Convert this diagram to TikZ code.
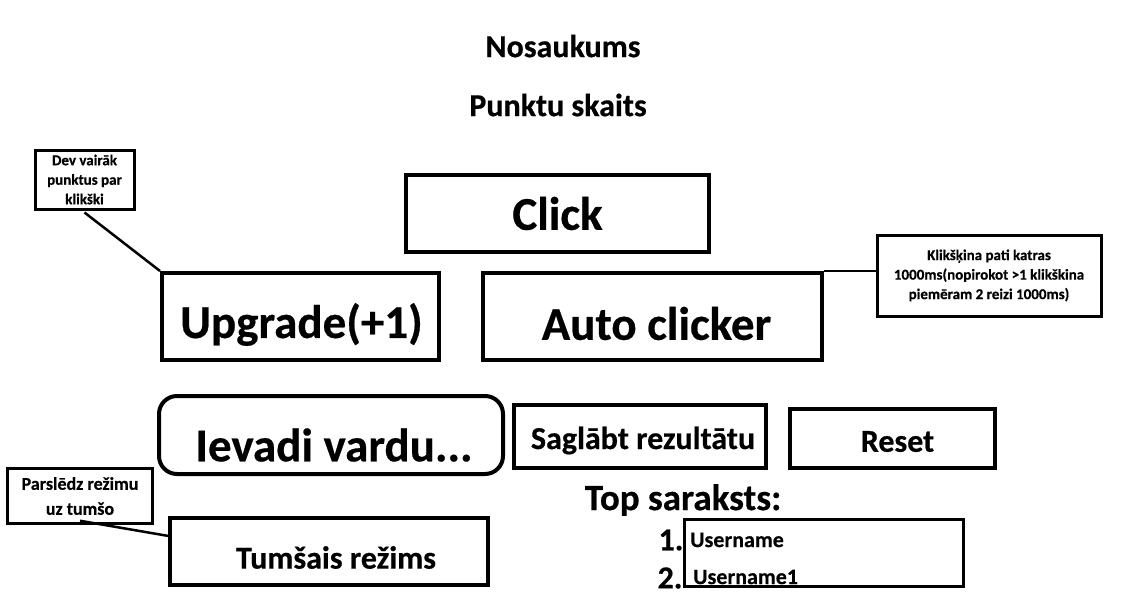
\documentclass[tikz,border=0pt]{standalone}
\usepackage{fontspec}
\setmainfont{Carlito}[BoldFeatures={FakeBold=0.5}]
\usetikzlibrary{positioning,calc}

\tikzset{
  box/.style={draw,line width=4pt,inner sep=0pt,font=\bfseries\fontsize{32}{34}\selectfont},
  bigbox/.style={box,font=\bfseries\fontsize{47}{50}\selectfont},
  notebox/.style={draw,line width=3pt,inner sep=0pt,align=center,font=\bfseries\fontsize{15}{19.5}\selectfont},
  heading/.style={font=\bfseries\fontsize{32}{34}\selectfont},
  label/.style={font=\bfseries\fontsize{22}{24}\selectfont,anchor=west,inner sep=0pt},
  noteline/.style={line width=2.5pt},
}

\begin{document}
\begin{tikzpicture}[x=1pt,y=-1pt]
\useasboundingbox (0,0) rectangle (1138,595);

% Title and score.
\node[heading] (title) at (563,46) {Nosaukums};
\node[heading] (score) at (558,105) {Punktu skaits};

% Main buttons.
\node[bigbox,minimum width=303pt,minimum height=77pt] (click) at (557.5,213.5) {Click};
\node[bigbox,minimum width=277pt,minimum height=87pt] (upgrade) at (300.5,316.5) {};
\node[bigbox,draw=none] (upgradetxt) at ([xshift=1pt,yshift=-8pt]upgrade.center) {Upgrade(+1)};
\node[bigbox,minimum width=339pt,minimum height=87pt] (auto) at (652.5,316.5) {};
\node[bigbox,draw=none] (autotxt) at ([xshift=4pt,yshift=-7pt]auto.center) {Auto clicker};

% Notes.
\node[notebox,minimum width=99pt,minimum height=59pt] (devnote) at (84.5,179.5) {Dev vairāk\\punktus par\\klikški};
\node[notebox,minimum width=224pt,minimum height=81pt] (autonote) at (989,275.5)
  {Klikšķina pati katras\\1000ms(nopirokot >1 klikškina\\piemēram 2 reizi 1000ms)};
\draw[noteline] ([yshift=-2pt]devnote.south) -- (upgrade.north west);
\draw[noteline] (auto.north east) -- (auto.north east -| autonote.west);

% Name input and buttons.
\node[box,rounded corners=18pt,minimum width=344pt,minimum height=78pt] (namein) at (331,435) {};
\node[bigbox,draw=none] (nametxt) at ([xshift=3pt,yshift=-10pt]namein.center) {Ievadi vardu...};
\node[box,minimum width=252pt,minimum height=63pt] (save) at (640,436.5) {};
\node[box,draw=none] (savetxt) at ([xshift=3pt,yshift=-4pt]save.center) {Saglābt rezultātu};
\node[box,minimum width=205pt,minimum height=59pt] (reset) at (892.5,438.5) {};
\node[box,draw=none] (resettxt) at ([xshift=5pt,yshift=-3pt]reset.center) {Reset};

% Dark mode.
\node[notebox,line width=2.5pt,minimum width=145pt,minimum height=55pt,font=\bfseries\fontsize{18}{25}\selectfont]
  (darknote) at (80,496) {Parslēdz režimu\\uz tumšo};
\node[box,minimum width=318pt,minimum height=67pt] (dark) at (329,551.5) {};
\node[box,draw=none] (darktxt) at ([xshift=7pt,yshift=-6pt]dark.center) {Tumšais režims};
\draw[noteline] ([yshift=4pt]darknote.south) -- ($(dark.north west)!0.28!(dark.south west)$);

% Top list.
\node[heading,font=\bfseries\fontsize{37}{40}\selectfont] (toptitle) at (683,500) {Top saraksts:};
\node[draw,line width=3pt,minimum width=279pt,minimum height=67pt] (toplist) at (824,553) {};
\node[heading] (first) at (671,540) {1.};
\node[heading] (second) at (670,578) {2.};
\node[label] (user) at (690,540) {Username};
\node[label] (userone) at (693,577) {Username1};

\end{tikzpicture}
\end{document}
